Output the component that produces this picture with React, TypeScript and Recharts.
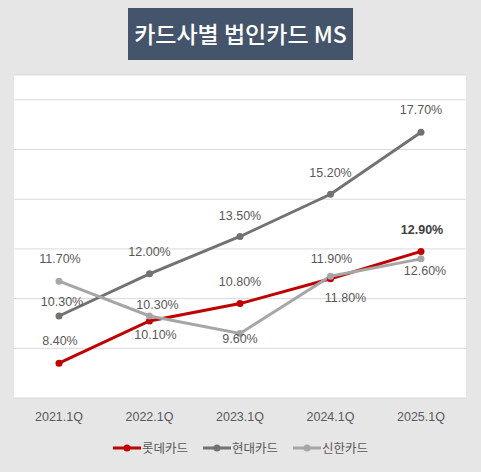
import { LineChart, Line, XAxis, YAxis, CartesianGrid, Legend } from 'recharts';

const quarters = ['2021.1Q', '2022.1Q', '2023.1Q', '2024.1Q', '2025.1Q'];
const lotte = [8.4, 10.1, 10.8, 11.8, 12.9];
const hyundai = [10.3, 12.0, 13.5, 15.2, 17.7];
const shinhan = [11.7, 10.3, 9.6, 11.9, 12.6];
const gridTicks = [9, 11, 13, 15, 17, 19];

// label placement relative to each point [dx, dy]
const lotteLabelPos = [[1, -22], [6, 14], [0, -22], [15, 19], [1, -21]];
const hyundaiLabelPos = [[3, -14], [0, -22], [0, -21], [0, -21], [0, -22]];
const shinhanLabelPos = [[1, -22], [8, -11], [0, 6], [1, -17], [4, 12]];

const series = [
  { name: '롯데카드', color: '#c00000', pos: lotteLabelPos },
  { name: '현대카드', color: '#767171', pos: hyundaiLabelPos },
  { name: '신한카드', color: '#a6a6a6', pos: shinhanLabelPos },
];

const data = quarters.map((q, i) => ({
  quarter: q,
  롯데카드: lotte[i],
  현대카드: hyundai[i],
  신한카드: shinhan[i],
}));

const FONT = "'Liberation Sans', 'Noto Sans CJK KR', sans-serif";

function makeLabel(pos: number[][], boldLast = false) {
  return (props: any) => {
    const { x, y, value, index } = props;
    if (x == null || y == null) return null;
    const [dx, dy] = pos[index] || [0, -20];
    const bold = boldLast && index === pos.length - 1;
    return (
      <text
        x={x + dx}
        y={y + dy + 4}
        textAnchor="middle"
        fontSize={12.5}
        fontFamily={FONT}
        fontWeight={bold ? 700 : 400}
        fill={bold ? '#404040' : '#595959'}
      >
        {Number(value).toFixed(2)}%
      </text>
    );
  };
}

function LegendContent() {
  return (
    <div style={{ display: 'flex', justifyContent: 'center', alignItems: 'center', fontFamily: FONT, fontSize: 12.5, color: '#595959' }}>
      {series.map((s, i) => (
        <div key={s.name} style={{ display: 'flex', alignItems: 'center', marginLeft: i === 0 ? 0 : 15 }}>
          <svg width={28} height={10} style={{ marginRight: 1 }}>
            <line x1={0} y1={5} x2={28} y2={5} stroke={s.color} strokeWidth={3} />
            <circle cx={14} cy={5} r={3.5} fill={s.color} />
          </svg>
          <span>{s.name}</span>
        </div>
      ))}
    </div>
  );
}

export default function App() {
  return (
    <div style={{ position: 'absolute', left: 0, top: 0, width: 481, height: 472, background: '#e7e6e6' }}>
      <div
        style={{
          position: 'absolute',
          left: 128,
          top: 8,
          width: 225,
          height: 52,
          background: '#44546a',
          color: '#fff',
          fontFamily: "'Noto Sans CJK KR', sans-serif",
          fontWeight: 500,
          fontSize: 23,
          lineHeight: '50px',
          textAlign: 'center',
          whiteSpace: 'nowrap',
        }}
      >
        카드사별 법인카드 MS
      </div>
      <div style={{ position: 'absolute', left: 0, top: 0 }}>
        <LineChart width={481} height={472} data={data} margin={{ top: 75, right: 15, left: 14, bottom: 44 }}>
          <CartesianGrid vertical={false} stroke="#d9d9d9" fill="#ffffff" />
          <XAxis
            dataKey="quarter"
            height={30}
            axisLine={false}
            tickLine={false}
            tickMargin={8}
            interval={0}
            padding={{ left: 45, right: 45 }}
            tick={{ fill: '#595959', fontSize: 12.5, fontFamily: FONT }}
          />
          <YAxis hide domain={[7, 20]} ticks={gridTicks} />
          <Legend
            verticalAlign="middle"
            align="center"
            content={<LegendContent />}
            wrapperStyle={{ top: 438, left: 0, width: 481 }}
          />
          {series.map((s, si) => (
            <Line
              key={s.name}
              type="linear"
              dataKey={s.name}
              stroke={s.color}
              strokeWidth={3}
              dot={{ r: 3.5, fill: s.color, stroke: s.color, strokeWidth: 0 }}
              activeDot={false}
              isAnimationActive={false}
              label={makeLabel(s.pos, si === 0)}
            />
          ))}
        </LineChart>
      </div>
    </div>
  );
}
